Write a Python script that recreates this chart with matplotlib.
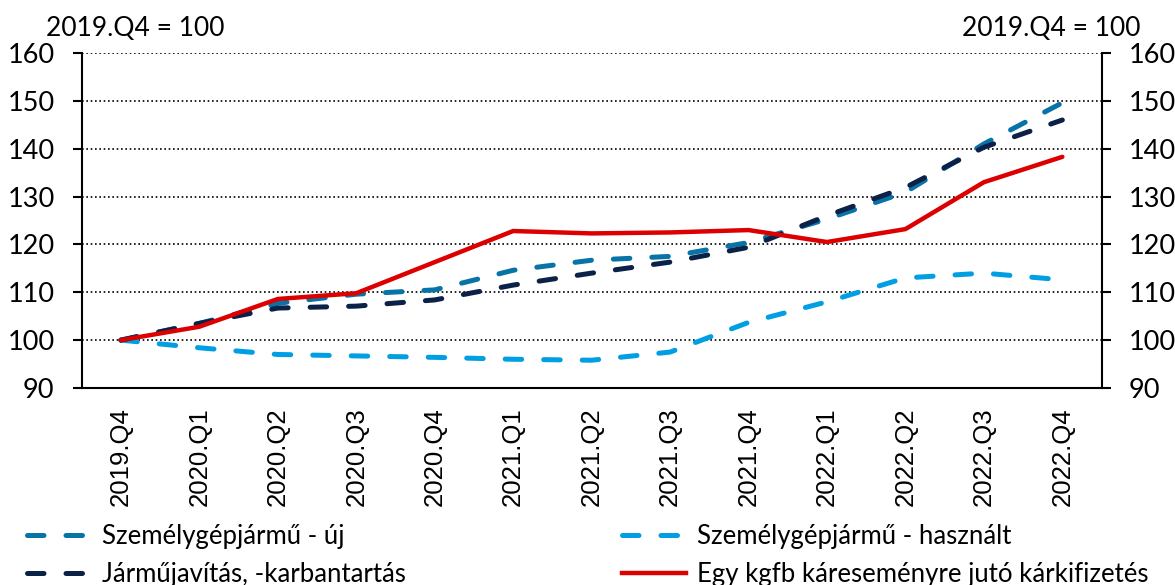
import numpy as np
import matplotlib
matplotlib.use("Agg")
import matplotlib.pyplot as plt
from matplotlib.lines import Line2D

quarters = ["2019.Q4", "2020.Q1", "2020.Q2", "2020.Q3", "2020.Q4",
            "2021.Q1", "2021.Q2", "2021.Q3", "2021.Q4",
            "2022.Q1", "2022.Q2", "2022.Q3", "2022.Q4"]

uj = [100, 103.5, 107.7, 109.6, 110.5, 114.6, 116.7, 117.5, 120.4, 125.3, 130.9, 141.0, 149.6]
hasznalt = [100, 98.4, 97.0, 96.7, 96.4, 96.0, 95.8, 97.5, 103.7, 108.0, 113.0, 114.0, 112.6]
javitas = [100, 103.5, 106.7, 107.1, 108.4, 111.5, 114.0, 116.3, 119.4, 126.0, 131.9, 140.3, 146.0]
kgfb = [100, 102.8, 108.6, 109.8, 116.3, 122.8, 122.3, 122.5, 123.0, 120.5, 123.2, 133.0, 138.3]

names = ["Személygépjármű - új", "Személygépjármű - használt",
         "Járműjavítás, -karbantartás", "Egy kgfb káreseményre jutó kárkifizetés"]
colors = ["#0873A6", "#009FE3", "#0C2148", "#DC0000"]

yticks = [90, 100, 110, 120, 130, 140, 150, 160]

fnt = ["Lato", "DejaVu Sans"]
plt.rcParams['font.family'] = fnt

fig = plt.figure(figsize=(11.75, 5.85), dpi=100)
ax = fig.add_axes([0.0695, 0.3368, 0.868, 0.5726])

x = np.arange(len(quarters))
dash = (3.3, 4.4)
ax.plot(x, uj, color=colors[0], lw=3.6, dashes=dash, dash_capstyle='round', zorder=3)
ax.plot(x, hasznalt, color=colors[1], lw=3.6, dashes=dash, dash_capstyle='round', zorder=3)
ax.plot(x, javitas, color=colors[2], lw=3.6, dashes=dash, dash_capstyle='round', zorder=3)
ax.plot(x, kgfb, color=colors[3], lw=3.2, solid_capstyle='round', zorder=4)

ax.set_xlim(-0.5, len(quarters) - 0.5)
ax.set_ylim(90, 160)
ax.set_yticks(yticks)
ax.set_xticks(x)
ax.set_xticklabels(quarters, rotation=90, family="Liberation Sans", fontsize=18.5)
ax.tick_params(axis='x', length=0, pad=14)
ax.tick_params(axis='y', direction='out', length=6.5, width=1.5, labelsize=19.5, pad=13,
               left=True, right=True, labelleft=True, labelright=True)
ax.grid(axis='y', color='black', linestyle=(0, (1, 1.6)), lw=1.2)
ax.set_axisbelow(True)
ax.spines['top'].set_visible(False)
for s in ['left', 'right', 'bottom']:
    ax.spines[s].set_linewidth(1.5)

fig.text(0.039, 0.951, "2019.Q4 = 100", fontsize=19, va='center', ha='left')
fig.text(0.971, 0.951, "2019.Q4 = 100", fontsize=19, va='center', ha='right')

handles = []
for i in range(4):
    if i < 3:
        h = Line2D([], [], color=colors[i], lw=3.6, dashes=dash, dash_capstyle='round')
    else:
        h = Line2D([], [], color=colors[i], lw=3.2)
    handles.append(h)
order = [0, 2, 1, 3]
fig.legend([handles[i] for i in order], [names[i] for i in order],
           loc='lower left', bbox_to_anchor=(0.003, -0.043), ncol=2, frameon=False,
           fontsize=18.5, handlelength=2.5, handletextpad=0.43, columnspacing=8.4,
           labelspacing=0.5)

fig.savefig("out.png", dpi=100)
